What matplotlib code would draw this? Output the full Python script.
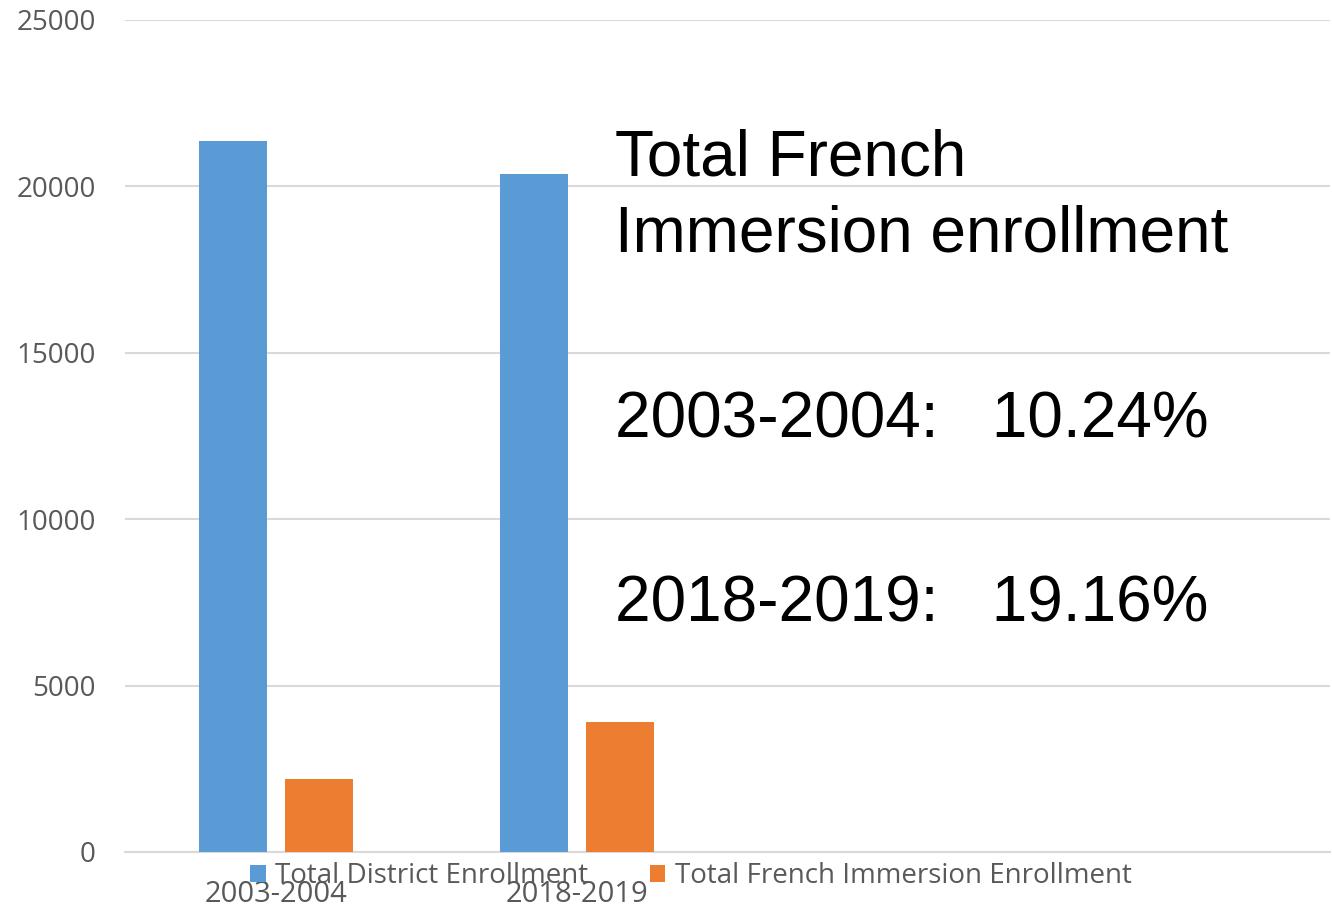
import matplotlib
matplotlib.use("Agg")
import matplotlib.pyplot as plt
import numpy as np

categories = ["2003-2004", "2018-2019", "", ""]
district = [21350, 20380, np.nan, np.nan]
immersion = [2190, 3900, np.nan, np.nan]
series_names = ["Total District Enrollment", "Total French Immersion Enrollment"]
y_ticks = [0, 5000, 10000, 15000, 20000, 25000]

BLUE = "#5B9BD5"
ORANGE = "#ED7D31"
GRID = "#D9D9D9"
TXT = "#595959"

W, H = 1332, 910
fig = plt.figure(figsize=(W / 100, H / 100), dpi=100)
ax = fig.add_axes([125 / W, (H - 852) / H, (1330 - 125) / W, (852 - 20) / H])

x = np.arange(len(categories))
bw = 0.226
off = 0.143
ax.bar(x - off, district, width=bw, color=BLUE, label=series_names[0], zorder=3)
ax.bar(x + off, immersion, width=bw, color=ORANGE, label=series_names[1], zorder=3)

ax.set_xlim(-0.5, len(categories) - 0.5)
ax.set_ylim(0, 25000)
ax.set_yticks(y_ticks)
ax.set_yticklabels([str(v) for v in y_ticks], fontsize=20, color=TXT, family="Open Sans")
ax.set_xticks(x)
ax.set_xticklabels(categories, fontsize=21, color=TXT, family="Open Sans")
ax.tick_params(axis="y", length=0, pad=21)
ax.tick_params(axis="x", length=0, pad=20)
ax.grid(axis="y", color=GRID, lw=1.5, zorder=0)
for s in ["top", "right", "left"]:
    ax.spines[s].set_visible(False)
ax.spines["bottom"].set_color(GRID)
ax.spines["bottom"].set_linewidth(1.5)

fig.legend(loc="center", bbox_to_anchor=(691 / W, (H - 876) / H), ncol=2, frameon=False,
           prop={"family": "Open Sans", "size": 20}, labelcolor=TXT,
           handlelength=0.55, handleheight=0.55, handletextpad=0.35, columnspacing=2.2)

bigfont = dict(family="Liberation Sans", fontsize=46, color="black", va="baseline", ha="left")
fig.text(615 / W, (H - 176) / H, "Total French", **bigfont)
fig.text(615 / W, (H - 251) / H, "Immersion enrollment", **bigfont)
fig.text(615 / W, (H - 438) / H, "2003-2004:   10.24%", **bigfont)
fig.text(615 / W, (H - 621) / H, "2018-2019:   19.16%", **bigfont)

fig.savefig("out.png", dpi=100, facecolor="white")
